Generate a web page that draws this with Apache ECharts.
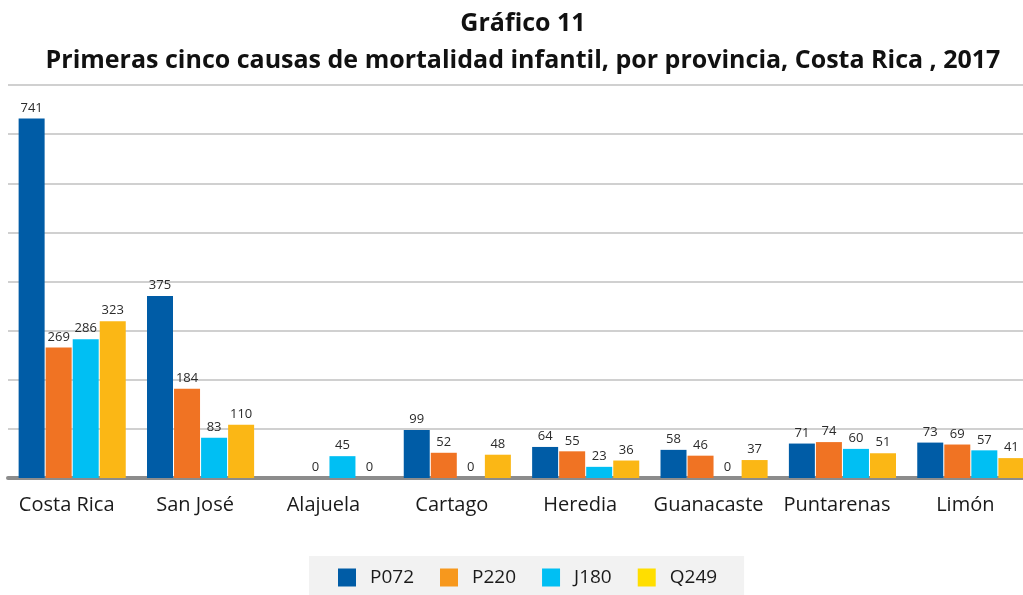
<!DOCTYPE html>
<html>
<head>
<meta charset="utf-8">
<title>Gráfico 11</title>
<script src="https://cdn.jsdelivr.net/npm/echarts@6/dist/echarts.min.js"></script>
<style>
  html, body { margin: 0; padding: 0; background: #fff; }
  #chart { width: 1023px; height: 595px; }
</style>
</head>
<body>
<div id="chart"></div>
<script>
// provincias
const provincias = ['Costa Rica', 'San José', 'Alajuela', 'Cartago', 'Heredia', 'Guanacaste', 'Puntarenas', 'Limón']
// causas (series)
const causas = ['P072', 'P220', 'J180', 'Q249']
const p072 = [741, 375, '-', 99, 64, 58, 71, 73]
const p220 = [269, 184, 0, 52, 55, 46, 74, 69]
const j180 = [286, 83, 45, 0, 23, 0, 60, 57]
const q249 = [323, 110, 0, 48, 36, 37, 51, 41]

const coloresBarra = ['#005ca6', '#f07323', '#00bff3', '#fbb715']
const coloresLeyenda = ['#005ca6', '#f7981d', '#00bff3', '#ffde00']

const chart = echarts.init(document.getElementById('chart'))

function serie(nombre, datos, i) {
  return {
    name: nombre,
    type: 'bar',
    data: datos,
    barWidth: 26,
    barGap: '4%',
    itemStyle: { color: coloresBarra[i] },
    label: {
      show: true,
      position: 'top',
      distance: 4,
      color: '#2b2b2b',
      fontSize: 13,
      fontFamily: 'Open Sans'
    },
    animation: false
  }
}

chart.setOption({
  title: {
    text: 'Gráfico 11\nPrimeras cinco causas de mortalidad infantil, por provincia, Costa Rica , 2017',
    left: 518,
    top: 0,
    textAlign: 'center',
    textStyle: {
      fontFamily: 'Open Sans',
      fontWeight: 'bold',
      fontSize: 25,
      lineHeight: 37,
      color: '#111'
    }
  },
  legend: {
    data: causas.map((c, i) => ({ name: c, itemStyle: { color: coloresLeyenda[i] } })),
    left: 309,
    top: 556,
    backgroundColor: '#f2f2f2',
    borderRadius: 0,
    padding: [12, 27, 12, 29],
    itemWidth: 18,
    itemHeight: 18,
    itemGap: 26,
    icon: 'rect',
    textStyle: { fontSize: 19, color: '#1a1a1a', fontFamily: 'Open Sans', padding: [0, 0, 0, 9] }
  },
  grid: {
    left: 8,
    top: 85,
    width: 1027, // la última categoría sale un poco del borde, como en el original
    bottom: 117,
    outerBoundsMode: 'none'
  },
  xAxis: {
    type: 'category',
    data: provincias,
    axisTick: { show: false },
    axisLine: { lineStyle: { color: '#8c8c8c', width: 4 } },
    axisLabel: {
      interval: 0,
      fontSize: 20,
      color: '#1a1a1a',
      fontFamily: 'Open Sans',
      margin: 17,
      padding: [0, 11, 0, 0]
    }
  },
  yAxis: {
    type: 'value',
    min: 0,
    max: 810,
    interval: 101.25,
    axisLabel: { show: false },
    axisLine: { show: false },
    axisTick: { show: false },
    splitLine: { lineStyle: { color: '#c0c0c0', width: 1.5 } }
  },
  series: [
    serie(causas[0], p072, 0),
    serie(causas[1], p220, 1),
    serie(causas[2], j180, 2),
    serie(causas[3], q249, 3)
  ]
})
</script>
</body>
</html>
